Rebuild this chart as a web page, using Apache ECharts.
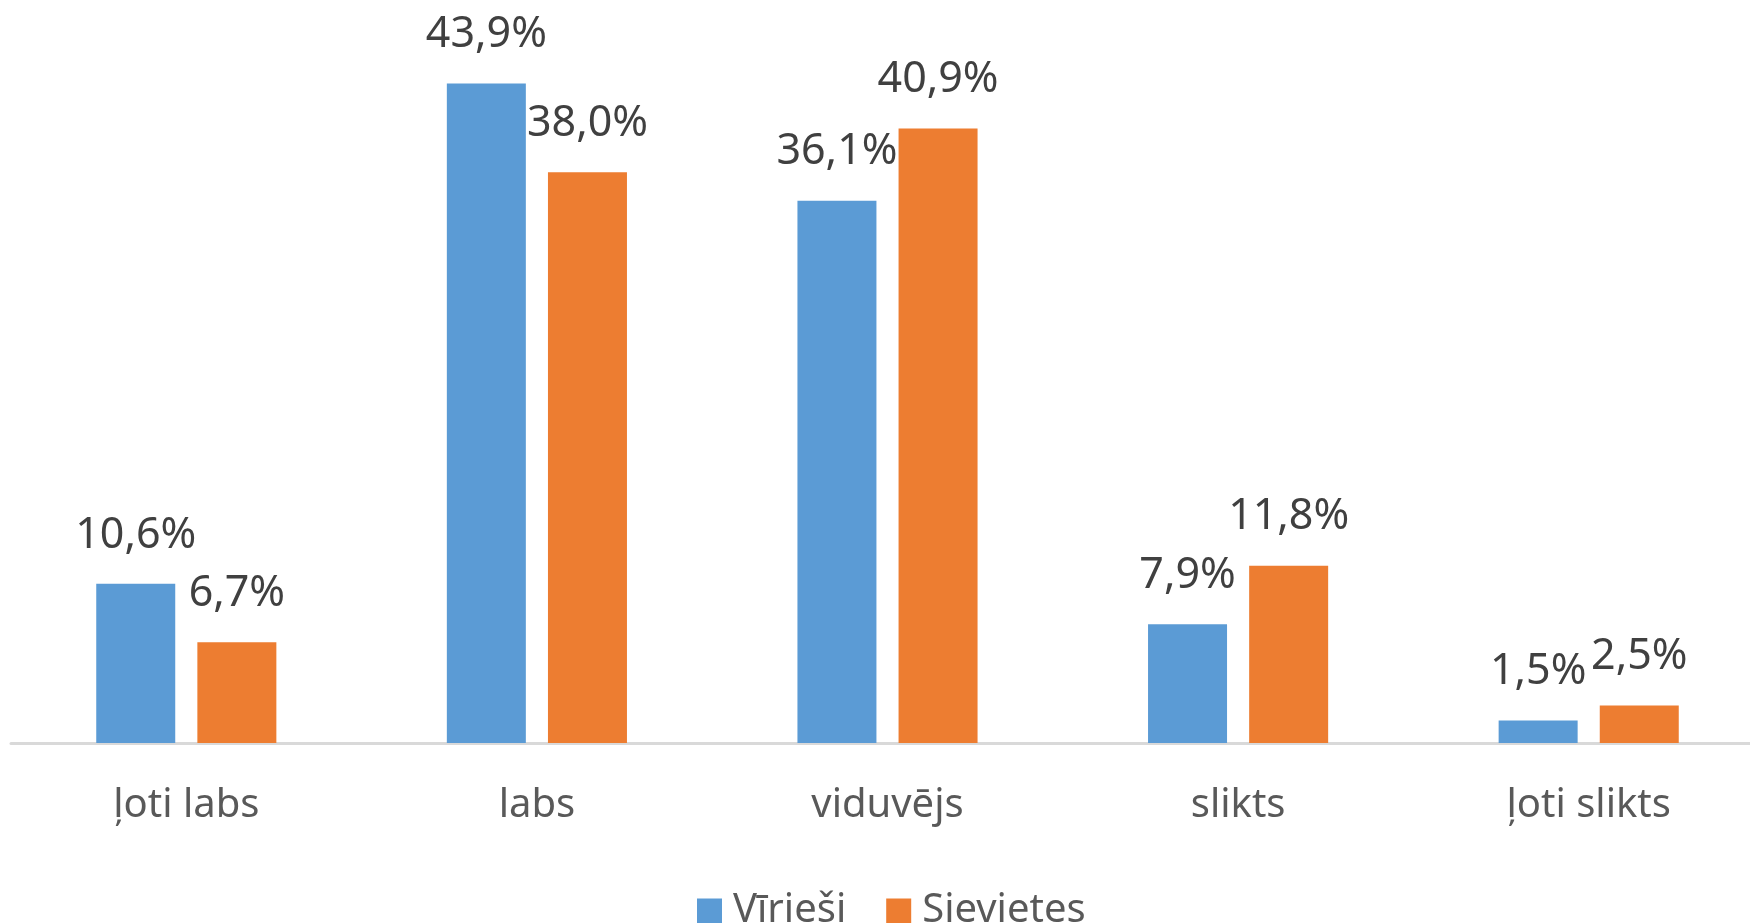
<!DOCTYPE html>
<html>
<head>
<meta charset="utf-8">
<script src="https://cdn.jsdelivr.net/npm/echarts@6/dist/echarts.min.js"></script>
<style>
  html, body { margin: 0; padding: 0; background: #ffffff; overflow: hidden; width: 1750px; height: 923px; }
  /* the plot runs slightly past the right edge of the page */
  #chart { width: 1764px; height: 923px; }
</style>
</head>
<body>
<div id="chart"></div>
<script>
// Self-rated health by sex, percent of respondents
const categories = ['ļoti labs', 'labs', 'viduvējs', 'slikts', 'ļoti slikts'];
const seriesNames = ['Vīrieši', 'Sievietes'];
const men = [10.6, 43.9, 36.1, 7.9, 1.5];
const women = [6.7, 38.0, 40.9, 11.8, 2.5];

const FONT = '"Noto Sans", "DejaVu Sans", sans-serif';
const fmt = v => v.toFixed(1).replace('.', ',') + '%';

const valueLabel = {
  show: true,
  position: 'top',
  distance: 27,
  fontFamily: FONT,
  fontSize: 43,
  lineHeight: 43,
  color: '#404040',
  formatter: p => fmt(p.value)
};

const chart = echarts.init(document.getElementById('chart'), null, { renderer: 'canvas' });
chart.setOption({
  backgroundColor: '#ffffff',
  animation: false,
  grid: { left: 11, right: 0, top: 67, bottom: 180, containLabel: false },
  legend: {
    data: seriesNames,
    left: 692,
    top: 886,
    itemWidth: 25,
    itemHeight: 25,
    itemGap: 40,
    icon: 'rect',
    textStyle: { fontFamily: FONT, fontSize: 40, color: '#595959', padding: [0, 0, 0, 6] }
  },
  xAxis: {
    type: 'category',
    data: categories,
    axisTick: { show: false },
    axisLine: { lineStyle: { color: '#D9D9D9', width: 3 } },
    axisLabel: { fontFamily: FONT, fontSize: 40, color: '#595959', margin: 43 }
  },
  yAxis: {
    type: 'value',
    min: 0,
    max: 45,
    show: false,
    splitLine: { show: false }
  },
  series: [
    {
      name: seriesNames[0],
      type: 'bar',
      data: men,
      barWidth: 79,
      barGap: '28%',
      itemStyle: { color: '#5B9BD5' },
      label: valueLabel
    },
    {
      name: seriesNames[1],
      type: 'bar',
      data: women,
      barWidth: 79,
      barGap: '28%',
      itemStyle: { color: '#ED7D31' },
      label: valueLabel
    }
  ]
});
</script>
</body>
</html>
